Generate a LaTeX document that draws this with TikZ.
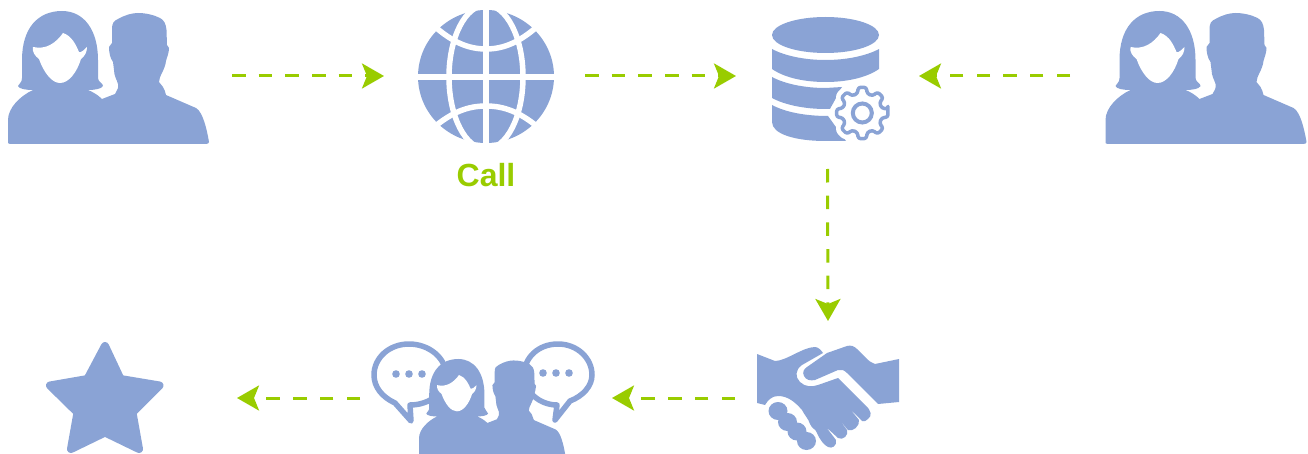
\documentclass[tikz,border=0pt]{standalone}
\usepackage{fontspec}
\setsansfont{Liberation Sans}
\usetikzlibrary{arrows.meta}
\definecolor{iconblue}{HTML}{8AA3D5}
\definecolor{flowgreen}{HTML}{99CC00}
\tikzset{
    iconbox/.style 2 args={inner sep=0pt,outer sep=0pt,minimum width=#1,minimum height=#2},
    flow/.style={flowgreen,line width=3pt,dash pattern=on 13.5pt off 13.17pt,
        -{Stealth[length=22pt,width=25pt,inset=5pt]}},
    iconfill/.style={fill=iconblue,draw=none},
    bubble/.style={draw=iconblue,line width=5.5pt,line join=round,fill=white},
    gearline/.style={line join=round,rounded corners=2.5pt},
    pics/couple/.style={code={
        \path[iconfill] (10,144) .. controls (8,144) and (8,143) .. (8,141) -- (8,120)
            .. controls (8,108) and (20,96) .. (33,90) .. controls (26,90) and (19,89) .. (18,86)
            .. controls (19,83) and (22,83) .. (22,78) -- (22,60)
            .. controls (22,28) and (38,11) .. (62,11) .. controls (84,11) and (98,30) .. (98,60)
            -- (98,78) .. controls (98,82) and (103,83) .. (103,86) .. controls (102,89) and (94,90) .. (88,90)
            .. controls (93,92) and (98,95) .. (102,99) -- (115,94) .. controls (117,90) and (119,88) .. (118,84)
            .. controls (117,80) and (114,76) .. (114,70) -- (113,62) .. controls (110,58) and (109,52) .. (109,47)
            -- (112,43) -- (112,30) .. controls (112,22) and (114,21) .. (118,19) .. controls (125,15) and (132,13) .. (138,13)
            .. controls (146,13) and (154,15) .. (160,18) .. controls (164,20) and (166,24) .. (166.5,30) -- (167,45) -- (169,48)
            .. controls (169,53) and (167,57) .. (166,61) .. controls (165,70) and (159,76) .. (159,82)
            -- (163,87) .. controls (165,90) and (165,92) .. (166,95) -- (196,108)
            .. controls (203,112) and (207,130) .. (209,142) .. controls (209,143) and (208,144) .. (206,144) -- cycle;
        \path[fill=white] (63,33) .. controls (56,43) and (46,50) .. (33,47) .. controls (32,52) and (35,56) .. (39,59)
            .. controls (44,73) and (52,83) .. (60,83) .. controls (69,83) and (77,72) .. (81,59)
            .. controls (85,56) and (87,52) .. (87,47) .. controls (84,50) and (81,53) .. (79,52)
            .. controls (76,45) and (72,36) .. (63,33) -- cycle;
    }}
}

\begin{document}
\begin{tikzpicture}[x=1pt,y=-1pt]
    \useasboundingbox (0,0) rectangle (1308,454);

    % Boxes the connectors run between
    \node[iconbox={248pt}{150pt}] (usersL) at (108,76) {};
    \node[iconbox={201pt}{150pt}] (globe) at (484.5,76) {};
    \node[iconbox={183pt}{186pt}] (dbase) at (827.5,76) {};
    \node[iconbox={272pt}{150pt}] (usersR) at (1206,76) {};
    \node[iconbox={186pt}{154pt}] (shake) at (828,398) {};
    \node[iconbox={252pt}{110pt}] (chat) at (486,398) {};
    \node[iconbox={266pt}{110pt}] (star) at (104,398) {};
    \node[font=\sffamily\bfseries,text=flowgreen,inner sep=0pt] (calllabel) at (486,175) {\fontsize{32pt}{32pt}\selectfont Call};

    % People
    \pic at (0,0) {couple};
    \pic at (1097.5,0) {couple};

    % Globe
    \fill[iconblue] (486,76.5) ellipse [x radius=68,y radius=66.5];
    \begin{scope}[draw=white,line width=5.5pt]
        \draw (412,77) -- (560,77);
        \draw (486,5) -- (486,148);
        \draw (486,77) ellipse [x radius=37,y radius=72];
        \draw (433,25) .. controls (452,42) and (468,49) .. (486,49) .. controls (504,49) and (520,42) .. (539,25);
        \draw (433,128) .. controls (452,112) and (468,106) .. (486,106) .. controls (504,106) and (520,112) .. (539,128);
    \end{scope}

    % Database with gear
    \fill[iconblue] (825.5,35) ellipse [x radius=53.5,y radius=18];
    \fill[iconblue] (772,49) .. controls (785,56) and (805,60) .. (825.5,60) .. controls (846,60) and (866,56) .. (879,49)
        -- (879,69) .. controls (866,78) and (846,82) .. (825.5,82) .. controls (805,82) and (785,78) .. (772,69) -- cycle;
    \fill[iconblue] (772,77) .. controls (785,84) and (805,88) .. (825.5,88) -- (842,87) -- (830,109) -- (825.5,109)
        .. controls (805,109) and (785,105) .. (772,98) -- cycle;
    \fill[iconblue] (772,105) .. controls (785,112) and (805,116) .. (828,116) -- (846,141) -- (825.5,141)
        .. controls (795,141) and (772,134) .. (772,122) -- cycle;
    \begin{scope}[shift={(862.3,113)}]
        \draw[gearline,draw=white,line width=13pt,fill=white] (-9:26) \foreach \a in {0,45,...,315} {
            -- (\a-9:26) -- (\a+9:26) -- (\a+14:20) -- (\a+31:20)} -- cycle;
        \draw[gearline,draw=iconblue,line width=3.5pt,fill=white] (-9:26) \foreach \a in {0,45,...,315} {
            -- (\a-9:26) -- (\a+9:26) -- (\a+14:20) -- (\a+31:20)} -- cycle;
        \draw[iconblue,line width=4pt] (0,0) circle (9.5pt);
    \end{scope}

    % Handshake
    \fill[iconblue] (757,354) -- (775,361) .. controls (786,361) and (803,347) .. (815,347)
        .. controls (818,347) and (821,350) .. (823,353) -- (802,365) .. controls (795,370) and (795,377) .. (800,382)
        .. controls (805,387) and (812,387) .. (818,385) -- (838,378) -- (865,405)
        .. controls (872,411) and (872,416) .. (868,419) .. controls (866,421) and (864,422) .. (862,421) -- (850,409)
        -- (859,420) .. controls (860,426) and (853,432) .. (848,430) -- (837,417) -- (847,430)
        .. controls (849,435) and (843,441) .. (838,438) -- (826,427) -- (836,440)
        .. controls (837,446) and (832,449) .. (828,447) .. controls (824,445) and (820,440) .. (817,433)
        .. controls (816,429) and (812,429) .. (810,424) .. controls (808,418) and (805,416) .. (802,410)
        .. controls (795,402) and (788,396) .. (778,396)
        .. controls (772,396) and (768,400) .. (765,405) -- (757,403) -- cycle;
    \fill[iconblue] (827,353) -- (847,346) .. controls (851,345) and (854,346) .. (857,349) .. controls (864,355) and (868,362) .. (875,364)
        -- (899,359) -- (899,402) -- (878,404) -- (847,373) .. controls (844,370) and (841,369) .. (838,370)
        -- (815,380) .. controls (810,381) and (806,380) .. (804,376) .. controls (802,372) and (804,369) .. (807,367) -- cycle;
    \foreach \kx/\ky in {778/411,787.5/422,797/431.5,806.5/441} {
        \fill[iconblue] (\kx,\ky) ellipse [x radius=9.5,y radius=9];
    }

    % Chat group
    \draw[bubble] (395,403) .. controls (382,397) and (374,387) .. (374,375) .. controls (374,358) and (389,344) .. (409,344)
        .. controls (429,344) and (446,358) .. (446,375) .. controls (446,392) and (430,405) .. (410,405) -- (411,421) -- cycle;
    \draw[bubble] (570,401) .. controls (583,396) and (592,386) .. (592,375) .. controls (592,358) and (577,344) .. (558,344)
        .. controls (538,344) and (524,358) .. (524,375) .. controls (524,392) and (540,405) .. (557,405) -- (555,420) -- cycle;
    \foreach \dx/\dy in {396/374,409/374,422/374,543/373,556/373,569/373} {
        \fill[iconblue] (\dx,\dy) circle (3.8pt);
    }
    \pic[shift={(413.2,351)},scale=.727] at (0,0) {couple};

    % Star
    \filldraw[iconblue,line width=8pt,line join=round] (105,346) -- (120.5,379) -- (159.5,385.5) -- (132.5,412.5) -- (139,449)
        -- (105,432.5) -- (71,449) -- (77.5,412.5) -- (50,385.5) -- (87.5,379) -- cycle;

    % Connectors
    \draw[flow] (usersL.east) -- (globe.west);
    \draw[flow] (globe.east) -- (dbase.west);
    \draw[flow] (usersR.west) -- (dbase.east);
    \draw[flow] (dbase.south) -- (shake.north);
    \draw[flow] (shake.west) -- (chat.east);
    \draw[flow] (chat.west) -- (star.east);
\end{tikzpicture}
\end{document}
